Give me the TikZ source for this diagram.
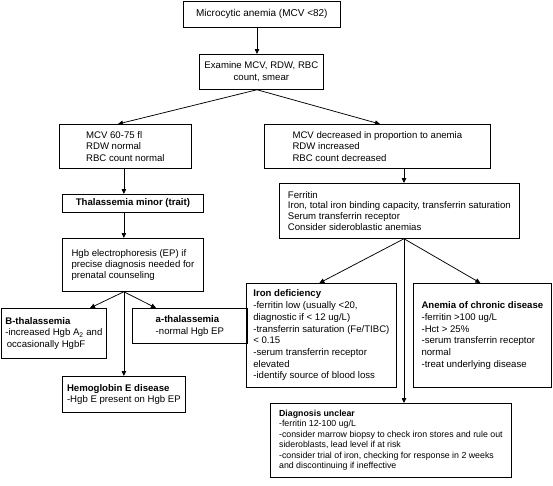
\documentclass[tikz,border=0pt]{standalone}
\usepackage{fontspec}
\setmainfont{Liberation Sans}
\usetikzlibrary{arrows.meta,calc}
\begin{document}
\begin{tikzpicture}[x=1pt,y=-1pt,
  box/.style={draw, line width=0.75pt, align=left, inner sep=0pt, anchor=north west,
    font=\fontsize{9.6}{11.7}\selectfont},
  tight/.style={font=\fontsize{9.6}{10.8}\selectfont},
  small/.style={font=\fontsize{8.8}{10.5}\selectfont},
  arr/.style={line width=0.75pt, -{Triangle[length=5pt,width=4.5pt]}}]
\useasboundingbox (0,0) rectangle (553,485);
\node[box, align=center, minimum width=157, minimum height=26, font=\fontsize{10}{12}\selectfont] (n1) at (183,1) {Microcytic anemia (MCV <82)};
\node[box, align=center, minimum width=124, minimum height=35, font=\fontsize{9.6}{12.5}\selectfont] (n2) at (199,54) {Examine MCV, RDW, RBC\\count, smear};
\node[box, minimum width=132, minimum height=44] (n3) at (59,124) {MCV 60-75 fl\\RDW normal\\RBC count normal};
\node[box, minimum width=226, minimum height=44] (n4) at (264,124) {MCV decreased in proportion to anemia\\RDW increased\\RBC count decreased};
\node[box, minimum width=141, minimum height=18] (thal) at (62,194) {\textbf{Thalassemia minor (trait)}};
\node[box, tight, minimum width=141, minimum height=53] (hgb) at (62,238) {Hgb electrophoresis (EP) if\\precise diagnosis needed for\\prenatal counseling};
\node[box, minimum width=105, minimum height=50] (bthal) at (1,308) {\textbf{B-thalassemia}\\-increased Hgb A\textsubscript{2} and\\\hspace{1.5pt}occasionally HgbF};
\node[box, minimum width=115, minimum height=35] (athal) at (132,308) {\textbf{a-thalassemia}\\-normal Hgb EP};
\node[box, minimum width=123, minimum height=36] (hgbE) at (62,376) {\textbf{Hemoglobin E disease}\\-Hgb E present on Hgb EP};
\node[box, tight, minimum width=240, minimum height=55] (fer) at (279,183) {Ferritin\\Iron, total iron binding capacity, transferrin saturation\\Serum transferrin receptor\\Consider sideroblastic anemias};
\node[box, minimum width=150, minimum height=104] (iron) at (246,283) {\textbf{Iron deficiency}\\-ferritin low (usually <20,\\diagnostic if < 12 ug/L)\\-transferrin saturation (Fe/TIBC)\\< 0.15\\-serum transferrin receptor\\elevated\\-identify source of blood loss};
\node[box, minimum width=138, minimum height=104] (acd) at (413,283) {\textbf{Anemia of chronic disease}\\-ferritin >100 ug/L\\-Hct > 25\%\\-serum transferrin receptor\\normal\\-treat underlying disease};
\node[box, small, minimum width=241, minimum height=74] (diag) at (270,403) {\textbf{Diagnosis unclear}\\-ferritin 12-100 ug/L\\-consider marrow biopsy to check iron stores and rule out\\sideroblasts, lead level if at risk\\-consider trial of iron, checking for response in 2 weeks\\and discontinuing if ineffective};
\coordinate (c1) at (257,0);
\coordinate (c3) at (404,0);
\draw[arr] (n1.south -| c1) -- (n2.north -| c1);
\draw[arr] (n2.south -| c1) -- ($(n3.north west)+(59,0)$);
\draw[arr] (n2.south -| c1) -- ($(n4.north west)+(116,0)$);
\draw[arr] (n3.south -| hgbE.north) -- (thal.north -| hgbE.north);
\draw[arr] (thal.south -| hgbE.north) -- (hgb.north -| hgbE.north);
\draw[arr] (hgb.south -| hgbE.north) -- (hgbE.north);
\draw[arr] (hgb.south -| hgbE.north) -- ($(bthal.north west)+(89,0)$);
\draw[arr] (hgb.south -| hgbE.north) -- ($(athal.north west)+(24,0)$);
\draw[arr] (n4.south -| c3) -- (fer.north -| c3);
\draw[arr] (fer.south -| c3) -- ($(iron.north)+(-2,0)$);
\draw[arr] (fer.south -| c3) -- ($(acd.north)+(-2,0)$);
\draw[arr] (fer.south -| c3) -- (diag.north -| c3);
\end{tikzpicture}
\end{document}
